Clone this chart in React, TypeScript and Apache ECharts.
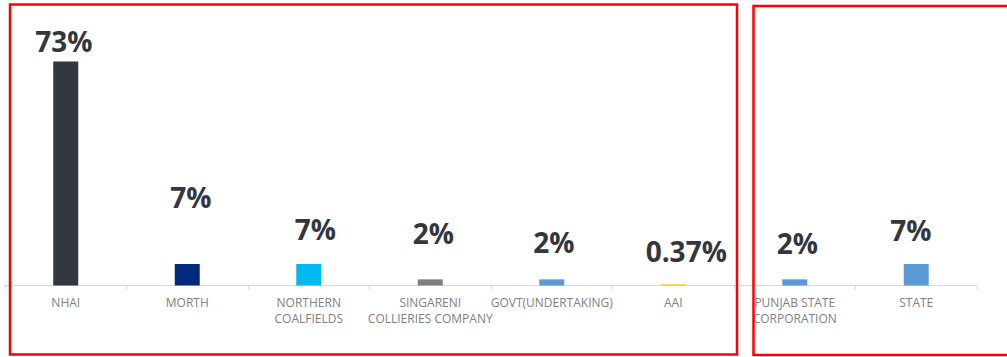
import React, { useEffect, useRef } from "react";
import * as echarts from "echarts";

const categories = [
  "NHAI",
  "MORTH",
  "NORTHERN\nCOALFIELDS",
  "SINGARENI\nCOLLIERIES COMPANY",
  "GOVT(UNDERTAKING)",
  "AAI",
  "PUNJAB STATE\nCORPORATION",
  "STATE",
];
const values = [73, 7, 7, 2, 2, 0.37, 2, 7];
const valueLabels = ["73%", "7%", "7%", "2%", "2%", "0.37%", "2%", "7%"];
const barColors = ["#32363e", "#002a80", "#00b9f1", "#7f7f7f", "#5b9bd5", "#ffc000", "#5b9bd5", "#5b9bd5"];
// label offsets (style only), [dx, dy] from bar top-center to label center
const labelOffsets = [
  [-2, -20],
  [3.5, -67],
  [6.5, -35],
  [3, -46.5],
  [2, -37],
  [13, -33],
  [2.5, -36],
  [-5.5, -34],
];

export default function App() {
  const ref = useRef<HTMLDivElement>(null);
  useEffect(() => {
    if (!ref.current) return;
    const chart = echarts.init(ref.current, undefined, { renderer: "svg" });
    chart.setOption({
      animation: false,
      backgroundColor: "#ffffff",
      grid: { left: 5, right: 30, top: 40, bottom: 71.5, containLabel: false },
      xAxis: {
        type: "category",
        data: categories,
        axisLine: { lineStyle: { color: "#d9d9d9", width: 1 } },
        axisTick: { show: true, length: 4, alignWithLabel: false, lineStyle: { color: "#d9d9d9" } },
        axisLabel: {
          interval: 0,
          color: "#808080",
          fontFamily: "Open Sans",
          fontSize: 12,
          lineHeight: 16,
          margin: 9,
        },
      },
      yAxis: {
        type: "value",
        min: 0,
        max: 80,
        show: false,
        splitLine: { show: false },
      },
      series: [
        {
          type: "bar",
          barWidth: 25,
          data: values.map((v, i) => ({
            value: v,
            itemStyle: { color: barColors[i] },
            label: {
              show: true,
              position: "top",
              distance: 0,
              verticalAlign: "middle",
              offset: labelOffsets[i],
              formatter: valueLabels[i],
              color: "#32363e",
              fontFamily: "Open Sans",
              fontWeight: "bold",
              fontSize: 28,
              lineHeight: 30,
            },
          })),
        },
      ],
      graphic: [
        {
          type: "rect",
          shape: { x: 10, y: 4.5, width: 727, height: 350 },
          style: { fill: "none", stroke: "#ff0000", lineWidth: 2.5 },
          z: 100,
        },
        {
          type: "rect",
          shape: { x: 753.5, y: 6, width: 270, height: 349 },
          style: { fill: "none", stroke: "#ff0000", lineWidth: 2.5 },
          z: 100,
        },
      ],
    });
    return () => chart.dispose();
  }, []);
  return (
    <div
      ref={ref}
      style={{ position: "fixed", left: 0, top: 0, width: 1007, height: 357, background: "#fff" }}
    />
  );
}
